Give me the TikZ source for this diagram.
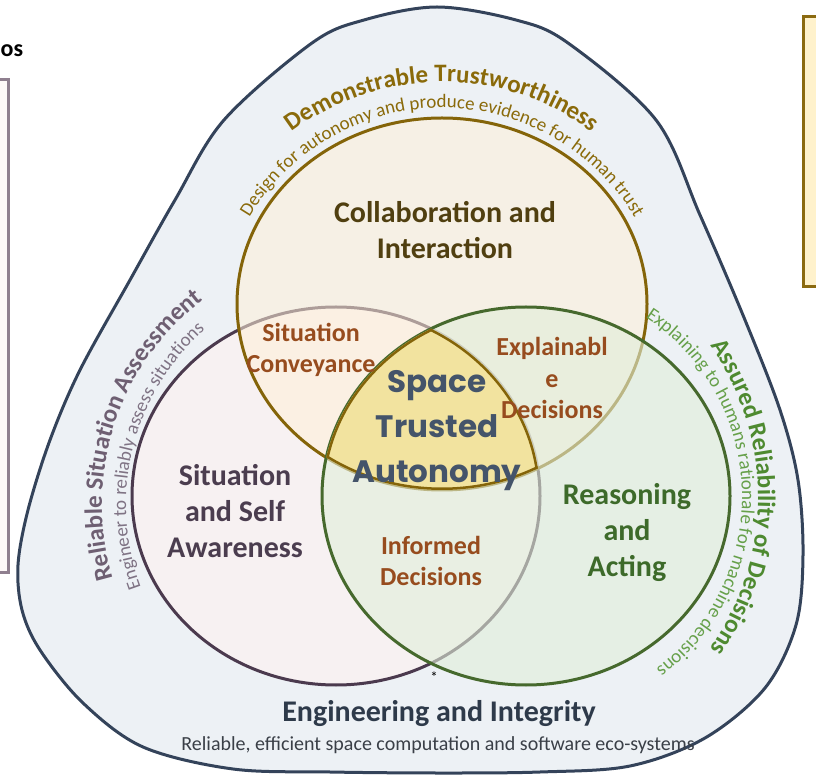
\documentclass[tikz,border=0pt]{standalone}
\usepackage{fontspec}
\setmainfont{Carlito}
\newfontfamily\stafont{Poppins}
\usetikzlibrary{decorations.text}

\definecolor{bgfill}{HTML}{EDF1F5}
\definecolor{bgline}{HTML}{34435A}
\definecolor{topfill}{HTML}{FFF0D8}
\definecolor{topline}{HTML}{846409}
\definecolor{leftfill}{HTML}{F7F1F2}
\definecolor{leftline}{HTML}{4B3A4E}
\definecolor{rightfill}{HTML}{E1EED9}
\definecolor{rightline}{HTML}{46692D}
\definecolor{lensfill}{HTML}{F2E39F}
\definecolor{collabtx}{HTML}{503F10}
\definecolor{situtx}{HTML}{4B3D4F}
\definecolor{reasontx}{HTML}{3D6A2A}
\definecolor{overlaptx}{HTML}{974C1E}
\definecolor{statx}{HTML}{44546A}
\definecolor{toptx}{HTML}{8A6A0A}
\definecolor{lefttitletx}{HTML}{6E5F72}
\definecolor{leftsubtx}{HTML}{7F7384}
\definecolor{righttitletx}{HTML}{4E8A30}
\definecolor{rightsubtx}{HTML}{66A04A}
\definecolor{bottomtx}{HTML}{2E3A4A}
\definecolor{bottomsubtx}{HTML}{3A3F47}
\definecolor{leftboxline}{HTML}{8F7F8F}
\definecolor{leftboxfill}{HTML}{FDF8F8}
\definecolor{rightboxline}{HTML}{8B6A10}
\definecolor{rightboxfill}{HTML}{FFF2CC}

% formats for the lettering set along arcs
\newcommand\toptitlefmt{\fontsize{25}{25}\selectfont\bfseries\color{toptx}}
\newcommand\topsubfmt{\fontsize{19}{19}\selectfont\color{toptx}}
\newcommand\lefttitlefmt{\fontsize{25}{25}\selectfont\bfseries\color{lefttitletx}}
\newcommand\leftsubfmt{\fontsize{19}{19}\selectfont\color{leftsubtx}}
\newcommand\righttitlefmt{\fontsize{25}{25}\selectfont\bfseries\color{righttitletx}}
\newcommand\rightsubfmt{\fontsize{19}{19}\selectfont\color{rightsubtx}}

\tikzset{
  ring/.style={line width=3pt},
  mainlabel/.style={font=\fontsize{30}{36}\selectfont\bfseries, align=center, inner sep=0pt},
  overlaplabel/.style={font=\fontsize{26}{31.5}\selectfont\bfseries, align=center, inner sep=0pt, text=overlaptx},
}

\begin{document}
\begin{tikzpicture}[x=1pt,y=1pt]
\useasboundingbox (0,0) rectangle (816,774);
\clip (0,0) rectangle (816,774);

% side panels
\draw[line width=3pt, draw=leftboxline, fill=leftboxfill] (-20,202) rectangle (8,694);
\draw[line width=3pt, draw=rightboxline, fill=rightboxfill] (803,487) rectangle (840,757);
\node[anchor=base west, inner sep=0pt, font=\fontsize{24}{24}\selectfont\bfseries] (heading) at (0.5,717) {os};

% rounded outer frame
\draw[line width=3pt, draw=bgline, fill=bgfill] plot[smooth cycle, tension=0.55] coordinates {
  (437,767) (516,754) (568,731) (656,654) (700,559) (745,454) (780,364)
  (798,294) (803,219) (796,149) (765,86) (705,36) (630,8) (540,2) (440,1)
  (330,2) (233,5) (143,27) (83,71) (40,124) (22,164) (18,209) (28,264)
  (50,334) (80,404) (130,494) (175,574) (224,654) (312,731) (364,754)};

% three overlapping domains
\path[ring, fill=leftfill, draw=leftline] (336,278) ellipse [x radius=204, y radius=189];
\path[ring, fill=topfill, fill opacity=0.55, draw=topline] (442,470) ellipse [x radius=205, y radius=186];
\path[ring, fill=rightfill, fill opacity=0.6, draw=rightline] (526,278) ellipse [x radius=204, y radius=189];

% common core of all three
\begin{scope}
  \clip (442,470) ellipse [x radius=205, y radius=186];
  \clip (336,278) ellipse [x radius=204, y radius=189];
  \clip (526,278) ellipse [x radius=204, y radius=189];
  \fill[lensfill] (300,200) rectangle (600,500);
  \draw[line width=5pt, topline] (442,470) ellipse [x radius=205, y radius=186];
  \draw[line width=5pt, topline] (336,278) ellipse [x radius=204, y radius=189];
  \draw[line width=5pt, topline] (526,278) ellipse [x radius=204, y radius=189];
\end{scope}

% lettering along the frame
\path[decorate, decoration={text along path, text align=center,
  text={|\toptitlefmt|Demonstrable Trustworthiness}}]
  (442,442) ++(150:250) arc[start angle=150, end angle=30, radius=250];
\path[decorate, decoration={text along path, text align=center,
  text={|\topsubfmt|Design for autonomy and produce evidence for human trust}}]
  (442,442) ++(170:224) arc[start angle=170, end angle=10, radius=224];
\path[decorate, decoration={text along path, text align=center,
  text={|\lefttitlefmt|Reliable Situation Assessment}}]
  (360,269) ++(222:258) arc[start angle=222, end angle=102, radius=258];
\path[decorate, decoration={text along path, text align=center,
  text={|\leftsubfmt|Engineer to reliably assess situations}}]
  (360,269) ++(226:234) arc[start angle=226, end angle=106, radius=234];
\path[decorate, decoration={text along path, text align=center,
  text={|\righttitlefmt|Assured Reliability of Decisions}}]
  (493,277) ++(60:265) arc[start angle=60, end angle=-60, radius=265];
\path[decorate, decoration={text along path, text align=center,
  text={|\rightsubfmt|Explaining to humans rationale for machine decisions}}]
  (527,277) ++(81.75:215) arc[start angle=81.75, end angle=-78.25, radius=215];

% domain labels
\node[mainlabel, text=collabtx] (collab) at (445,544) {Collaboration and\\Interaction};
\node[mainlabel, text=situtx] (aware) at (235,263) {Situation\\and Self\\Awareness};
\node[mainlabel, text=reasontx] (reason) at (627,241) {Reasoning\\and\\Acting};
\node[overlaplabel] (convey) at (311,424) {Situation\\Conveyance};
\node[overlaplabel] (explain) at (552,396) {Explainabl\\e\\Decisions};
\node[overlaplabel] (inform) at (431,213) {Informed\\Decisions};
\node[align=center, inner sep=0pt, text=statx, font=\stafont\bfseries\fontsize{31}{45}\selectfont] (core) at (437,343) {Space\\Trusted\\Autonomy};
\node[inner sep=0pt, font=\fontsize{15}{15}\selectfont] (star) at (434,97) {*};

% foundation
\node[inner sep=0pt, text=bottomtx, font=\fontsize{30}{30}\selectfont\bfseries] (eng) at (439,60) {Engineering and Integrity};
\node[inner sep=0pt, text=bottomsubtx, font=\fontsize{20}{20}\selectfont] (engsub) at (438,29) {Reliable, efficient space computation and software eco-systems};
\end{tikzpicture}
\end{document}
